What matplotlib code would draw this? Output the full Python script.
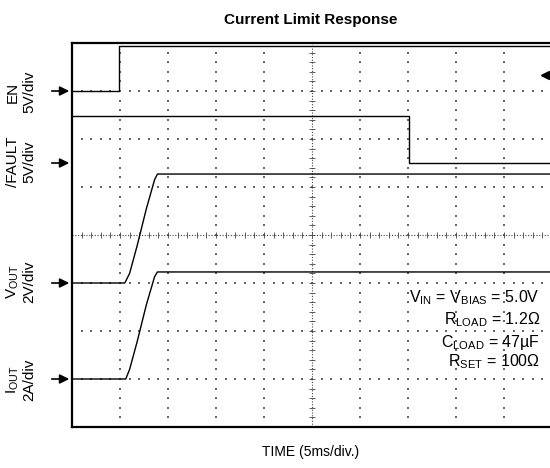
import numpy as np
import matplotlib.pyplot as plt

plt.rcParams['font.family'] = ['Liberation Sans', 'DejaVu Sans']
plt.rcParams['mathtext.fontset'] = 'custom'
plt.rcParams['mathtext.rm'] = 'Liberation Sans'
plt.rcParams['mathtext.it'] = 'Liberation Sans'

# traces in scope divisions (x: 0..10, y: 0..8 from bottom)
en_t = [0.0, 0.98, 0.98, 10.0]
en_v = [7.0, 7.0, 7.94, 7.94]

fault_t = [0.0, 7.02, 7.02, 10.0]
fault_v = [6.48, 6.48, 5.5, 5.5]

vout_t = [0.0, 1.1, 1.2, 1.35, 1.55, 1.72, 1.78, 10.0]
vout_v = [3.0, 3.0, 3.2, 3.75, 4.55, 5.15, 5.27, 5.27]

iout_t = [0.0, 1.12, 1.2, 1.35, 1.55, 1.72, 1.78, 10.0]
iout_v = [1.0, 1.0, 1.2, 1.75, 2.55, 3.13, 3.23, 3.23]

channel_y = [7.0, 5.5, 3.0, 1.0]
channel_names = ['EN', '/FAULT', r'V$_\mathregular{OUT}$', r'I$_\mathregular{OUT}$']
channel_scales = ['5V/div', '5V/div', '2V/div', '2A/div']

notes = [r'V$_\mathregular{IN}$ = V$_\mathregular{BIAS}$ = 5.0V',
         r'R$_\mathregular{LOAD}$ = 1.2Ω',
         r'C$_\mathregular{LOAD}$ = 47µF',
         r'R$_\mathregular{SET}$ = 100Ω']

fig = plt.figure(figsize=(5.5, 4.68), dpi=100)
ax = fig.add_axes([72/550, 41/468, 480/550, 384/468])
ax.set_xlim(0, 10)
ax.set_ylim(0, 8)
ax.set_xticks([])
ax.set_yticks([])
for s in ax.spines.values():
    s.set_linewidth(1.6)

# dotted graticule
sub = np.arange(0, 10.01, 0.2)
subv = np.arange(0, 8.01, 0.2)
for gx in range(1, 10):
    if gx == 5:
        continue
    ax.scatter(np.full(len(subv), gx), subv, s=1.0, marker='s', color='#666666', lw=0)
for gy in range(1, 8):
    if gy == 4:
        continue
    ax.scatter(sub, np.full(len(sub), gy), s=1.0, marker='s', color='#666666', lw=0)
# centre axes with minor ticks
ax.plot([0, 10], [4, 4], ls=(0, (1, 1.5)), lw=0.8, color='#444444')
ax.plot([5, 5], [0, 8], ls=(0, (1, 1.5)), lw=0.8, color='#444444')
ax.plot(sub, np.full(len(sub), 4), ls='none', marker='|', ms=4, mew=0.6, color='#444444')
ax.plot(np.full(len(subv), 5), subv, ls='none', marker='_', ms=4, mew=0.6, color='#444444')

ax.plot(en_t, en_v, color='k', lw=1.0)
ax.plot(fault_t, fault_v, color='k', lw=1.0)
ax.plot(vout_t, vout_v, color='k', lw=1.0)
ax.plot(iout_t, iout_v, color='k', lw=1.0)

# channel markers
for cy in channel_y:
    ax.annotate('', xy=(0, cy), xytext=(-0.48, cy),
                arrowprops=dict(arrowstyle='-|>', color='k', lw=1.2, mutation_scale=14),
                annotation_clip=False)
ax.plot([9.85], [7.33], marker='<', ms=6, color='k')

# channel labels
label_py = [92, 162, 282, 380]
for py, name, scale in zip(label_py, channel_names, channel_scales):
    fig.text(13/550, 1 - py/468, name, rotation=90, ha='center', va='center', fontsize=11)
    fig.text(29/550, 1 - py/468, scale, rotation=90, ha='center', va='center', fontsize=11)

note_py = [298, 320, 342, 362]
for py, txt in zip(note_py, notes):
    fig.text(540/550, 1 - py/468, txt, ha='right', va='center', fontsize=11.5)

fig.text(311/550, 1 - 20/468, 'Current Limit Response', ha='center', va='center',
         fontsize=11, fontweight='bold')
fig.text(311/550, 1 - 452/468, 'TIME (5ms/div.)', ha='center', va='center', fontsize=10)

fig.savefig('out.png', dpi=100)
